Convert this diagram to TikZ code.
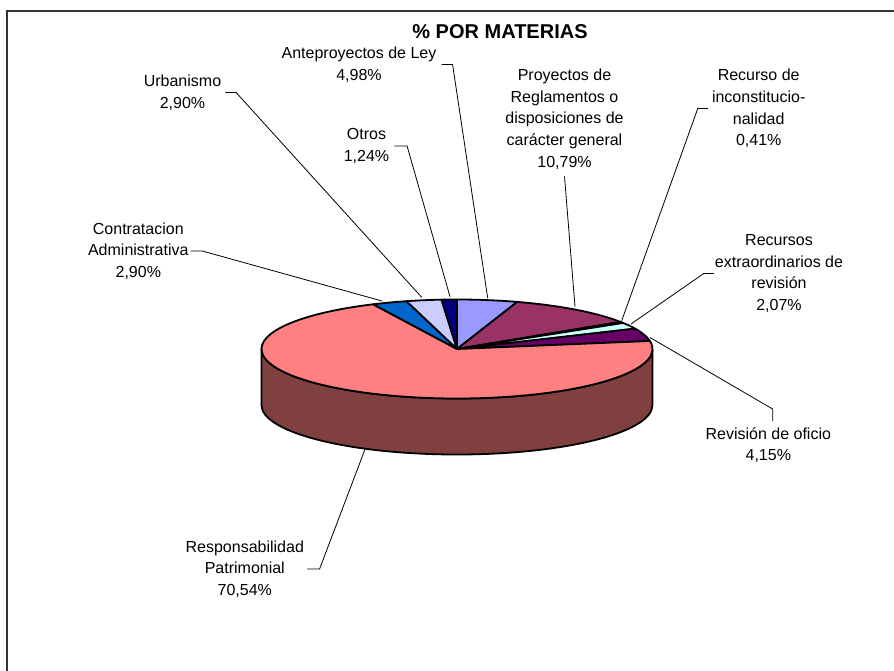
\documentclass[tikz,border=0pt]{standalone}
\usepackage{fontspec}
\setmainfont{Liberation Sans}
\definecolor{cAnte}{HTML}{9999FF}
\definecolor{cRegl}{HTML}{993366}
\definecolor{cInc}{HTML}{FFFFCC}
\definecolor{cExt}{HTML}{CCFFFF}
\definecolor{cRev}{HTML}{660066}
\definecolor{cResp}{HTML}{FF8080}
\definecolor{cCon}{HTML}{0066CC}
\definecolor{cUrb}{HTML}{CCCCFF}
\definecolor{cOtr}{HTML}{000080}
\definecolor{cSide}{HTML}{804040}
\newcommand\myslice[3]{\filldraw[slice,fill=#3] (C) -- ++(#1:195.5 and 49.5) arc[start angle=#1,end angle=#2,x radius=195.5,y radius=49.5] -- cycle;}
\begin{document}
\begin{tikzpicture}[x=1pt,y=1pt,
  lbl/.style={align=center,inner sep=0pt,font=\fontsize{16}{21.7}\selectfont},
  leader/.style={draw=black,line width=0.8pt},
  slice/.style={draw=black,line width=1.8pt,line join=round}]
\useasboundingbox (0,0) rectangle (894,-670);
\fill[white] (0,0) rectangle (894,-670);
\draw[black!80,line width=1.5pt] (7,-672) -- (7,-11) -- (896,-11);
% title
\node[font=\bfseries\fontsize{20}{24}\selectfont] (title) at (500,-32) {\% POR MATERIAS};
% pie
\coordinate (C) at (457,-349);
\filldraw[slice,fill=cSide] (261.5,-349) -- (261.5,-405) arc[start angle=180,end angle=360,x radius=195.5,y radius=49.5] -- (652.5,-349) arc[start angle=0,end angle=-180,x radius=195.5,y radius=49.5] -- cycle;
\myslice{90}{72.072}{cAnte}
\myslice{72.072}{33.228}{cRegl}
\myslice{33.228}{31.752}{cInc}
\myslice{31.752}{24.3}{cExt}
\myslice{24.3}{9.36}{cRev}
\myslice{9.36}{-244.584}{cResp}
\myslice{-244.584}{-255.024}{cCon}
\myslice{-255.024}{-265.464}{cUrb}
\myslice{-265.464}{-270}{cOtr}
% leader end points
\coordinate (pAnte) at (487.7,-298);
\coordinate (pRegl) at (575,-306.7);
\coordinate (pInc) at (621.7,-320.7);
\coordinate (pExt) at (631,-324);
\coordinate (pRev) at (650,-337.5);
\coordinate (pResp) at (365,-449.3);
\coordinate (pCon) at (382,-301);
\coordinate (pUrb) at (421.7,-297.3);
\coordinate (pOtr) at (450,-296.7);
% labels
\node[lbl] (ante) at (359,-64.5) {Anteproyectos de Ley\\4,98\%};
\node[lbl] (urb) at (182.5,-92.5) {Urbanismo\\2,90\%};
\node[lbl] (otr) at (366.5,-146) {Otros\\1,24\%};
\node[lbl] (regl) at (564.5,-119) {Proyectos de\\Reglamentos o\\disposiciones de\\carácter general\\10,79\%};
\node[lbl] (inc) at (758.7,-108.4) {Recurso de\\inconstitucio-\\nalidad\\0,41\%};
\node[lbl] (ext) at (779,-273.5) {Recursos\\extraordinarios de\\revisión\\2,07\%};
\node[lbl] (rev) at (768.3,-445) {Revisión de oficio\\4,15\%};
\node[lbl] (con) at (138.3,-251) {Contratacion\\Administrativa\\2,90\%};
\node[lbl] (resp) at (244.8,-569) {Responsabilidad\\Patrimonial\\70,54\%};
% leaders
\draw[leader] ([xshift=5pt]ante.east) -- ++(11,0) -- (pAnte);
\draw[leader] ([xshift=4pt]urb.east) -- ++(10.7,0) -- (pUrb);
\draw[leader] ([xshift=5pt]otr.east) -- ++(12.7,0) -- (pOtr);
\draw[leader] ([xshift=2pt]con.east) -- ++(11.6,0) -- (pCon);
\draw[leader] ([xshift=3pt]resp.east) -- ++(12.4,0) -- (pResp);
\draw[leader] ([xshift=-4pt]inc.west) -- ++(-10,0) -- (pInc);
\draw[leader] ([xshift=-1pt]ext.west) -- ++(-10,0) -- (pExt);
\draw[leader] ([xshift=4.4pt,yshift=6pt]rev.north) -- ++(0,12) -- (pRev);
\draw[leader] ([yshift=-7pt]regl.south) -- (pRegl);
\end{tikzpicture}
\end{document}
